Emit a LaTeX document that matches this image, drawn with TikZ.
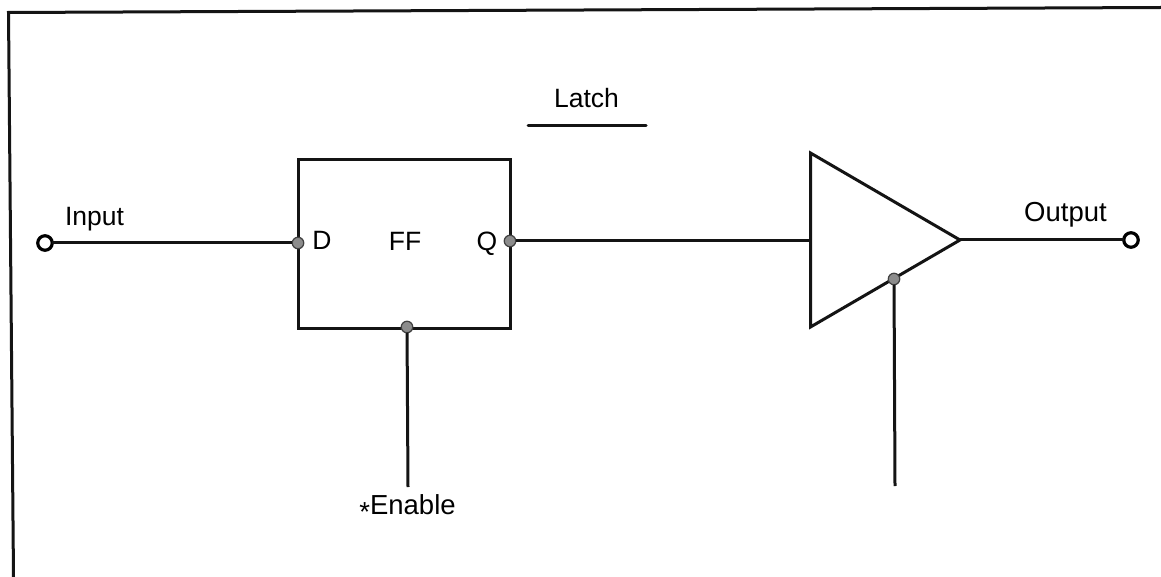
\documentclass[tikz,border=0pt]{standalone}
\usepackage{fontspec}
\setmainfont{Liberation Sans}
\tikzset{
  wire/.style={draw=black!92,line width=3pt,line cap=round},
  port/.style={circle,draw=black!75,fill=black!45,line width=1.2pt,inner sep=0pt,outer sep=0pt,minimum size=11.5pt},
  term/.style={circle,draw=black,fill=white,line width=3.2pt,inner sep=0pt,outer sep=0pt,minimum size=14.5pt},
  lbl/.style={font=\fontsize{26.5}{28}\selectfont,text=black,inner sep=0pt,anchor=base},
  wide/.style={font=\fontsize{27.5}{29}\selectfont}
}
\begin{document}
\begin{tikzpicture}[x=1pt,y=-1pt]
\useasboundingbox (0,0) rectangle (1161,577);
\fill[white] (0,0) rectangle (1161,577);
\coordinate (fa) at (13.5,577); \coordinate (fb) at (8.5,12.5); \coordinate (fc) at (1161,7.5);
\draw[wire,line cap=butt,line join=miter] (fa) -- (fb) -- (fc);
\node[lbl] (title) at (586.5,108) {Latch};
\coordinate (ua) at (528,126); \coordinate (ub) at (646,126);
\draw[wire] (ua) -- (ub);
\node[draw=black!92,line width=3pt,minimum width=212.5pt,minimum height=168.5pt,inner sep=0pt,outer sep=0pt,anchor=north west] (ff) at (298,159.5) {};
\node[lbl] (ffl) at (405,251) {FF};
\node[lbl] (dl) at (322,250) {D};
\node[lbl] (ql) at (487,251) {Q};
\node[term] (in) at (45,243) {};
\node[lbl] (inl) at (94.5,225.5) {Input};
\node[port] (d) at (298,243) {};
\node[port] (q) at (510,241) {};
\node[port] (en) at (407,327) {};
\draw[wire,line cap=butt] (in) -- (d);
\coordinate (ta) at (810.5,153); \coordinate (tb) at (810.5,327); \coordinate (tc) at (960,240);
\draw[wire,line join=miter] (ta) -- (tb) -- (tc) -- cycle;
\coordinate (qin) at (810.5,241);
\draw[wire,line cap=butt] (q) -- (qin);
\node[port] (oe) at (894,279) {};
\node[term] (out) at (1131,240) {};
\node[lbl,wide] (outl) at (1065.5,222) {Output};
\draw[wire,line cap=butt] (tc) -- (out);
\coordinate (ee) at (408,487);
\draw[wire,line cap=butt] (en) -- (ee);
\coordinate (oee) at (895,486);
\draw[wire,line cap=butt] (oe) -- (oee);
\node[lbl,wide] (enl) at (407.5,514) {\raisebox{-7pt}{*}Enable};
\end{tikzpicture}
\end{document}
